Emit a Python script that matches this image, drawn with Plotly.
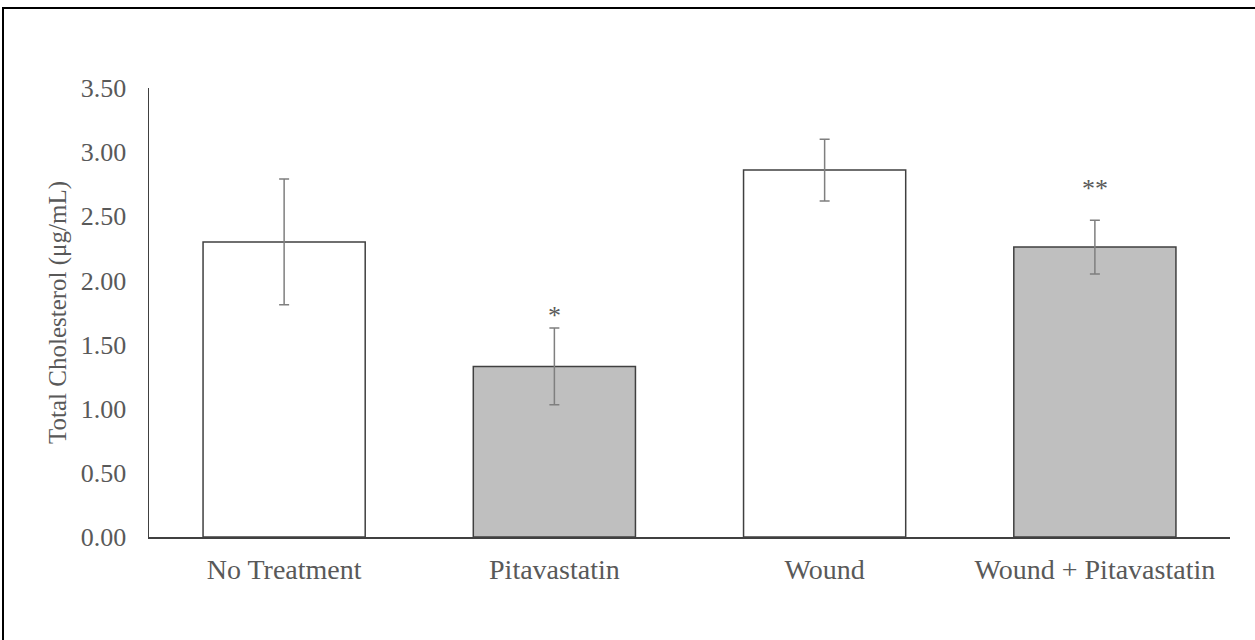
import plotly.graph_objects as go

categories = ["No Treatment", "Pitavastatin", "Wound", "Wound + Pitavastatin"]
means = [2.30, 1.33, 2.86, 2.26]
errors = [0.49, 0.30, 0.24, 0.21]
fill_colors = ["#FFFFFF", "#BFBFBF", "#FFFFFF", "#BFBFBF"]
sig_labels = ["", "*", "", "**"]
sig_y = [0, 1.73, 0, 2.72]
y_ticks = [0.0, 0.5, 1.0, 1.5, 2.0, 2.5, 3.0, 3.5]

font_family = "Liberation Serif, Times New Roman, serif"
text_color = "#595959"

fig = go.Figure()
fig.add_trace(go.Bar(
    x=categories,
    y=means,
    marker=dict(color=fill_colors, line=dict(color="#404040", width=1.5)),
    error_y=dict(type="data", array=errors, visible=True,
                 color="#7F7F7F", thickness=1.5, width=5),
    width=0.6,
    showlegend=False,
    hoverinfo="skip",
))

for c, lab, yy in zip(categories, sig_labels, sig_y):
    if lab:
        fig.add_annotation(x=c, y=yy, text=lab, showarrow=False,
                           font=dict(family=font_family, size=26, color=text_color),
                           yanchor="middle")

fig.update_layout(
    width=1255, height=640, autosize=False,
    margin=dict(l=149, r=25, t=88, b=103),
    paper_bgcolor="white", plot_bgcolor="white",
    font=dict(family=font_family, color=text_color, size=25),
    bargap=0.4,
    shapes=[dict(type="rect", xref="paper", yref="paper",
                 x0=-146 / 1081, y0=(537 - 8) / 449, x1=1.5, y1=-1.0,
                 line=dict(color="#000000", width=2), fillcolor="rgba(0,0,0,0)",
                 layer="above")],
)

fig.update_xaxes(
    showline=True, linecolor="#404040", linewidth=1.5,
    showgrid=False, ticks="", zeroline=False,
    tickfont=dict(family=font_family, size=28, color=text_color),
    ticklabelstandoff=7,
)
fig.update_yaxes(
    range=[0, 3.5], tickvals=y_ticks, tickformat=".2f",
    showline=True, linecolor="#404040", linewidth=1.5,
    showgrid=False, ticks="", zeroline=False,
    tickfont=dict(family=font_family, size=26, color=text_color),
    ticklabelstandoff=16,
    title=dict(text="Total Cholesterol (μg/mL)",
               font=dict(family=font_family, size=25, color=text_color),
               standoff=7),
)

fig.write_html("out.html",
               config={"displayModeBar": False, "staticPlot": True},
               post_script="document.body.style.margin='0';document.body.style.overflow='hidden';")
